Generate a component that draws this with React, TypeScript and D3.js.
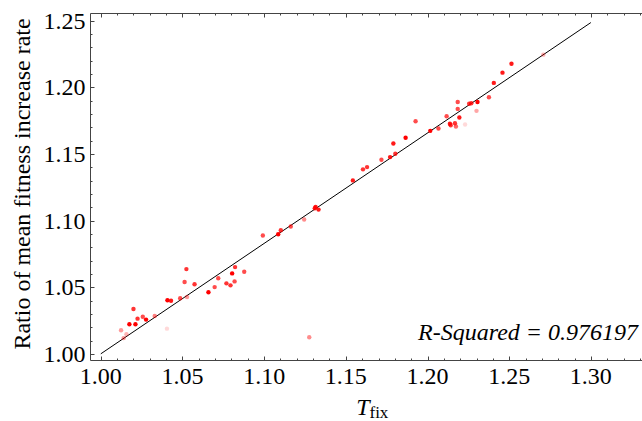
import React, { useRef, useEffect } from 'react';
import * as d3 from 'd3';

// T_fix vs. ratio of mean fitness increase rate
const tfix = [
  1.2709, 1.2514, 1.2459, 1.2406, 1.2376, 1.2306, 1.2255, 1.2268, 1.2185, 1.2185,
  1.2300, 1.2117, 1.2195, 1.1927, 1.2168, 1.2137, 1.2142, 1.2174, 1.2230, 1.2067,
  1.2017, 1.1866, 1.1791, 1.1803, 1.1771, 1.1718, 1.1630, 1.1605, 1.1543, 1.1315,
  1.1310, 1.1333, 1.1245, 1.1163, 1.1102, 1.1086, 1.0992, 1.0822, 1.0804, 1.0878,
  1.0719, 1.0697, 1.0659, 1.0769, 1.0794, 1.0819, 1.0524, 1.0513, 1.0574, 1.0408,
  1.0430, 1.0486, 1.0528, 1.0200, 1.0175, 1.0212, 1.0225, 1.0257, 1.0277, 1.0330,
  1.0124, 1.0140, 1.0157, 1.0405, 1.1276,
];
const ratio = [
  1.2246, 1.2178, 1.2111, 1.2034, 1.1926, 1.1891, 1.1877, 1.1881, 1.1891, 1.1839,
  1.1824, 1.1784, 1.1774, 1.1746, 1.1731, 1.1727, 1.1716, 1.1707, 1.1722, 1.1692,
  1.1674, 1.1622, 1.1579, 1.1502, 1.1477, 1.1457, 1.1402, 1.1385, 1.1302, 1.1103,
  1.1093, 1.1083, 1.1008, 1.0956, 1.0928, 1.0898, 1.0888, 1.0651, 1.0604, 1.0616,
  1.0567, 1.0501, 1.0462, 1.0529, 1.0514, 1.0544, 1.0636, 1.0539, 1.0522, 1.0402,
  1.0399, 1.0417, 1.0427, 1.0337, 1.0222, 1.0222, 1.0264, 1.0279, 1.0257, 1.0284,
  1.0177, 1.0118, 1.0147, 1.0189, 1.0125,
];
// point weight (drawn as opacity)
const weight = [
  0.3, 0.9, 0.9, 0.9, 0.7, 1, 0.8, 0.8, 0.7, 0.7,
  0.35, 0.7, 0.9, 0.7, 0.8, 0.9, 0.8, 0.6, 0.15, 0.7,
  1, 1, 0.9, 0.8, 0.9, 0.7, 0.8, 0.8, 0.9, 0.9,
  0.9, 0.9, 0.45, 0.7, 0.8, 1, 0.7, 0.8, 1, 0.7,
  0.7, 0.7, 1, 0.8, 0.8, 0.7, 0.8, 0.7, 0.8, 1,
  0.9, 0.7, 0.4, 0.8, 1, 1, 0.8, 0.7, 1, 0.5,
  0.4, 0.4, 0.3, 0.15, 0.45,
];

const fitRange = [1.0, 1.3];
const fitIntercept = 1.0;
const fitSlope = 0.829;
const rSquared = '0.976197';

const xMajor = [1.0, 1.05, 1.1, 1.15, 1.2, 1.25, 1.3];
const yMajor = [1.0, 1.05, 1.1, 1.15, 1.2, 1.25];

const W = 642;
const H = 421;

const Chart = () => {
  const ref = useRef<SVGSVGElement>(null);

  useEffect(() => {
    const svg = d3.select(ref.current);
    svg.selectAll('*').remove();

    const x = d3.scaleLinear().domain([0.9937, 1.3313]).range([90.5, 642]);
    const y = d3.scaleLinear().domain([0.995, 1.2555]).range([360.5, 13.5]);
    const frame = '#444';
    const font = '"Liberation Serif", "DejaVu Serif", serif';

    // frame: left, bottom, top
    const [x0, x1] = x.range();
    const [y0, y1] = y.range();
    svg.append('path')
      .attr('d', `M${x1},${y1}H${x0}V${y0}H${x1}`)
      .attr('fill', 'none')
      .attr('stroke', frame)
      .attr('stroke-width', 1);

    const xMinor = d3.range(100, 134).map((v) => v / 100);
    const yMinor = d3.range(100, 126).map((v) => v / 100);
    const isMajor = (v: number) => Math.abs(v * 20 - Math.round(v * 20)) < 1e-6;

    const ticks = svg.append('g').attr('stroke', frame).attr('stroke-width', 1);
    xMinor.forEach((v) => {
      const len = isMajor(v) ? 4 : 2;
      const px = Math.round(x(v)) + 0.5;
      ticks.append('line').attr('x1', px).attr('x2', px).attr('y1', y0).attr('y2', y0 - len);
      ticks.append('line').attr('x1', px).attr('x2', px).attr('y1', y1).attr('y2', y1 + len);
    });
    yMinor.forEach((v) => {
      const len = isMajor(v) ? 4 : 2;
      const py = Math.round(y(v)) + 0.5;
      ticks.append('line').attr('x1', x0).attr('x2', x0 + len).attr('y1', py).attr('y2', py);
    });

    svg.append('g').selectAll('text')
      .data(xMajor)
      .enter().append('text')
      .attr('x', (d) => x(d))
      .attr('y', 384)
      .attr('text-anchor', 'middle')
      .style('font-family', font)
      .style('font-size', '24px')
      .text((d) => d3.format('.2f')(d));

    svg.append('g').selectAll('text')
      .data(yMajor)
      .enter().append('text')
      .attr('x', x0 - 5)
      .attr('y', (d) => y(d))
      .attr('dy', '0.33em')
      .attr('text-anchor', 'end')
      .style('font-family', font)
      .style('font-size', '24px')
      .text((d) => d3.format('.2f')(d));

    // fitted line
    const line = d3.line<number>()
      .x((d) => x(d))
      .y((d) => y(fitIntercept + fitSlope * (d - 1)));
    svg.append('path')
      .attr('d', line(fitRange))
      .attr('fill', 'none')
      .attr('stroke', '#000')
      .attr('stroke-width', 1);

    // points
    svg.append('g').selectAll('circle')
      .data(tfix)
      .enter().append('circle')
      .attr('cx', (d) => x(d))
      .attr('cy', (d, i) => y(ratio[i]))
      .attr('r', 2.2)
      .attr('fill', '#ff0000')
      .attr('fill-opacity', (d, i) => weight[i]);

    svg.append('text')
      .attr('x', 638)
      .attr('y', 340)
      .attr('text-anchor', 'end')
      .style('font-family', font)
      .style('font-style', 'italic')
      .style('font-size', '24px')
      .text(`R-Squared = ${rSquared}`);

    const xt = svg.append('text')
      .attr('x', (x0 + x1) / 2 + 6)
      .attr('y', 415)
      .attr('text-anchor', 'middle')
      .style('font-family', font);
    xt.append('tspan').style('font-style', 'italic').style('font-size', '24px').text('T');
    xt.append('tspan').attr('dy', 3).style('font-size', '17px').text('fix');

    svg.append('text')
      .attr('transform', `translate(22, 184) rotate(-90)`)
      .attr('dy', '0.35em')
      .attr('text-anchor', 'middle')
      .style('font-family', font)
      .style('font-size', '24px')
      .text('Ratio of mean fitness increase rate');
  }, []);

  return <svg ref={ref} width={W} height={H} style={{ position: 'absolute', left: 0, top: 0, background: 'white' }} />;
};

export default function App() {
  return <Chart />;
}
